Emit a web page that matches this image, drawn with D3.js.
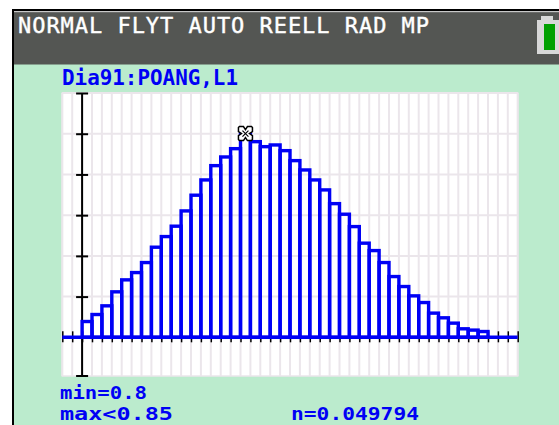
<!DOCTYPE html>
<html>
<head>
<meta charset="utf-8">
<script src="https://cdn.jsdelivr.net/npm/d3@7"></script>
<style>
html, body { margin: 0; padding: 0; background: #fff; }
svg { display: block; }
text { font-family: "DejaVu Sans Mono", monospace; font-weight: bold; }
</style>
</head>
<body>
<script>
// calculator window: Xmin -0.1, Xmax 2.2, Xscl 0.05, Yscl 0.01
const binStart = 0
const binWidth = 0.05
const counts = [
    0.00388, 0.00560, 0.00773, 0.01117, 0.01411, 0.01590, 0.01836, 0.02213, 0.02474, 0.02729,
    0.03104, 0.03490, 0.03865, 0.04216, 0.04429, 0.04633, 0.049794, 0.04805, 0.04682, 0.04724,
    0.04584, 0.04339, 0.04110, 0.03865, 0.03620, 0.03283, 0.03023, 0.02719, 0.02312, 0.02130,
    0.01836, 0.01492, 0.01247, 0.01018, 0.00854, 0.00594, 0.00479, 0.00348, 0.00209, 0.00177,
    0.00142
]
const xTicks = d3.range(-2, 45).map(function(i) {return i * binWidth})
const yTicks = [0, 0.01, 0.02, 0.03, 0.04, 0.05, 0.06]

const modeText = "NORMAL FLYT AUTO REELL RAD MP"
const titleText = "Dia91:POANG,L1"
const minText = "min=0.8"
const maxText = "max<0.85"
const nText = "n=0.049794"

const blue = "#0000f5"
const gridColor = "#ebe6eb"

const svg = d3.select("body")
    .append("svg")
    .attr("width", 559)
    .attr("height", 425)

// screen frame
svg.append("rect").attr("x", 12).attr("y", 9).attr("width", 547).attr("height", 416).attr("fill", "#000")
svg.append("rect").attr("x", 14).attr("y", 11).attr("width", 545).attr("height", 414).attr("fill", "#bbebcd")
svg.append("rect").attr("x", 14).attr("y", 11).attr("width", 545).attr("height", 53.5).attr("fill", "#545653")
svg.append("rect").attr("x", 14).attr("y", 11).attr("width", 545).attr("height", 1.2).attr("fill", "#c8c8c8")

svg.append("text")
    .attr("x", 18)
    .attr("y", 33)
    .attr("font-size", 22)
    .attr("textLength", 411)
    .attr("lengthAdjust", "spacing")
    .attr("fill", "#fff")
    .style("font-weight", "normal")
    .attr("stroke", "#fff")
    .attr("stroke-width", 0.4)
    .text(modeText)

// battery
svg.append("rect").attr("x", 541).attr("y", 16).attr("width", 12).attr("height", 8).attr("fill", "#d8d8d8")
svg.append("rect").attr("x", 537).attr("y", 20).attr("width", 22).attr("height", 34).attr("fill", "#d8d8d8")
svg.append("rect").attr("x", 544).attr("y", 24).attr("width", 11).attr("height", 26).attr("fill", "#00a000")

const xScale = d3.scaleLinear()
    .domain([-0.1, 2.2])
    .range([62.3, 517.7])
const yScale = d3.scaleLinear()
    .domain([-0.0095, 0.06])
    .range([376, 93])

// plot area and grid
svg.append("rect")
    .attr("x", xScale.range()[0])
    .attr("y", yScale.range()[1])
    .attr("width", xScale.range()[1] - xScale.range()[0])
    .attr("height", yScale.range()[0] - yScale.range()[1])
    .attr("fill", "#fff")
    .attr("stroke", gridColor)
    .attr("stroke-width", 1.5)

svg.append("g").selectAll("line")
    .data(xTicks).enter()
    .append("line")
    .attr("x1", function(d) {return xScale(d)})
    .attr("x2", function(d) {return xScale(d)})
    .attr("y1", yScale.range()[1])
    .attr("y2", yScale.range()[0])
    .attr("stroke", gridColor)
    .attr("stroke-width", 2)

svg.append("g").selectAll("line")
    .data(yTicks).enter()
    .append("line")
    .attr("x1", xScale.range()[0])
    .attr("x2", xScale.range()[1])
    .attr("y1", function(d) {return yScale(d)})
    .attr("y2", function(d) {return yScale(d)})
    .attr("stroke", gridColor)
    .attr("stroke-width", 2)

// axes
const xAxis = d3.axisBottom(xScale)
    .tickValues(xTicks)
    .tickSize(5)
    .tickFormat("")
const xAxisG = svg.append("g")
    .attr("transform", "translate(0," + yScale(0) + ")")
    .call(xAxis)
xAxisG.select(".domain").remove()
xAxisG.selectAll(".tick line")
    .attr("y1", -6)
    .attr("stroke-width", 1.5)

const yAxis = d3.axisLeft(yScale)
    .tickValues(yTicks)
    .tickSize(6)
    .tickFormat("")
const yAxisG = svg.append("g")
    .attr("transform", "translate(" + xScale(0) + ",0)")
    .call(yAxis)
yAxisG.select(".domain")
    .attr("d", "M0," + yScale.range()[1] + "V" + yScale.range()[0])
    .attr("stroke-width", 2)
yAxisG.selectAll(".tick line")
    .attr("x2", -6)
    .attr("x1", 6)
    .attr("stroke-width", 2)
yAxisG.append("line")
    .attr("x1", -6)
    .attr("x2", 6)
    .attr("y1", yScale.range()[0])
    .attr("y2", yScale.range()[0])
    .attr("stroke", "#000")
    .attr("stroke-width", 2)

// histogram
svg.append("g").selectAll("rect")
    .data(counts).enter()
    .append("rect")
    .attr("x", function(d, i) {return xScale(binStart + i * binWidth)})
    .attr("y", function(d) {return yScale(d)})
    .attr("width", xScale(binWidth) - xScale(0))
    .attr("height", function(d) {return yScale(0) - yScale(d)})
    .attr("fill", "none")
    .attr("stroke", blue)
    .attr("stroke-width", 3.4)

svg.append("line")
    .attr("x1", xScale.range()[0])
    .attr("x2", xScale.range()[1])
    .attr("y1", yScale(0))
    .attr("y2", yScale(0))
    .attr("stroke", blue)
    .attr("stroke-width", 3.4)

// trace cursor
const cursor = svg.append("g")
    .attr("transform", "translate(" + xScale(binStart + 16.5 * binWidth) + "," + (yScale(counts[16]) - 1) + ")")
cursor.append("path")
    .attr("d", "M-6,-7H-2L0,-4L2,-7H6L7,-6V-2L4,0L7,2V6L6,7H2L0,4L-2,7H-6L-7,6V2L-4,0L-7,-2V-6Z")
    .attr("fill", "#fff")
    .attr("stroke", "#000")
    .attr("stroke-width", 1.5)
cursor.append("path")
    .attr("d", "M-3,-3L3,3M-3,3L3,-3")
    .attr("stroke", "#000")
    .attr("stroke-width", 1.2)

// labels
const labels = [
    {s: titleText, x: 62, y: 85, len: 176, size: 21},
    {s: minText, x: 60, y: 399, len: 87, size: 18},
    {s: maxText, x: 60, y: 420, len: 113, size: 18},
    {s: nText, x: 291, y: 420, len: 128, size: 18}
]
svg.selectAll("text.label")
    .data(labels).enter()
    .append("text")
    .attr("class", "label")
    .attr("x", function(d) {return d.x})
    .attr("y", function(d) {return d.y})
    .attr("font-size", function(d) {return d.size})
    .attr("textLength", function(d) {return d.len})
    .attr("lengthAdjust", "spacingAndGlyphs")
    .attr("fill", blue)
    .text(function(d) {return d.s})
</script>
</body>
</html>
